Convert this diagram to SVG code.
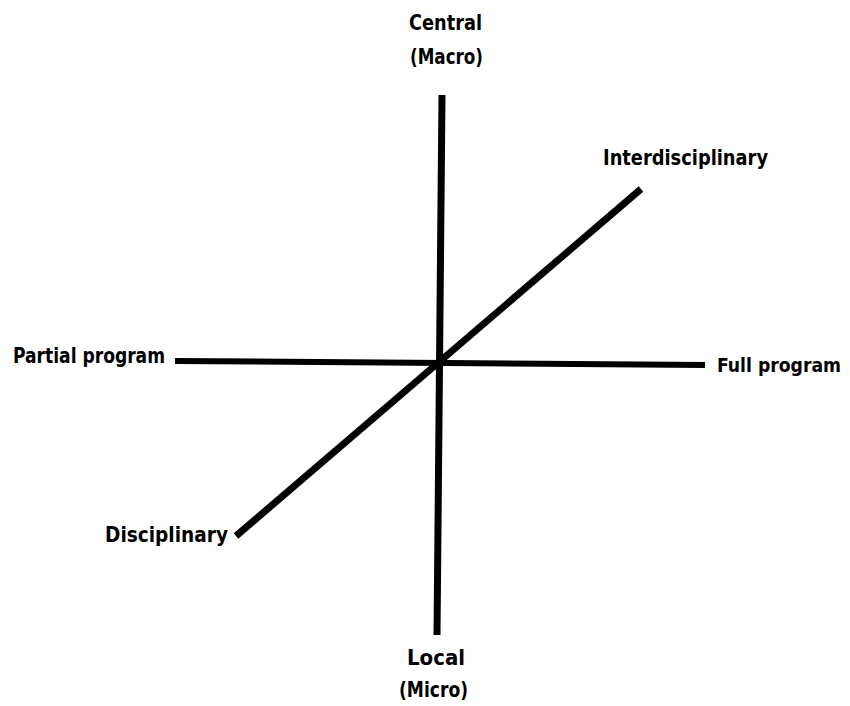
<svg xmlns="http://www.w3.org/2000/svg" width="850" height="706" viewBox="0 0 850 706">
<style>
.lbl{font-family:"DejaVu Sans Condensed","DejaVu Sans","Liberation Sans",sans-serif;font-weight:bold;font-size:22px;fill:#000}
.ax{stroke:#000;fill:none;stroke-linecap:butt}
</style>
<rect width="850" height="706" fill="#fff"/>
<g id="connectors">
<line class="ax" stroke-width="7" x1="442" y1="95" x2="437" y2="635"/>
<line class="ax" stroke-width="6" x1="175" y1="361" x2="705" y2="365"/>
<line class="ax" stroke-width="7" x1="641" y1="189" x2="236" y2="536"/>
</g>
<g id="central"><text class="lbl" x="409" y="30" textLength="73" lengthAdjust="spacingAndGlyphs">Central</text><text class="lbl" x="410" y="64" textLength="73" lengthAdjust="spacingAndGlyphs">(Macro)</text></g>
<g id="interdisciplinary"><text class="lbl" x="603" y="165" textLength="165" lengthAdjust="spacingAndGlyphs">Interdisciplinary</text></g>
<g id="partial"><text class="lbl" x="13" y="363" textLength="152" lengthAdjust="spacingAndGlyphs">Partial program</text></g>
<g id="full"><text class="lbl" x="717" y="372" style="font-size:20px" textLength="124" lengthAdjust="spacingAndGlyphs">Full program</text></g>
<g id="disciplinary"><text class="lbl" x="105" y="542" textLength="123" lengthAdjust="spacingAndGlyphs">Disciplinary</text></g>
<g id="local"><text class="lbl" x="407" y="665" textLength="58" lengthAdjust="spacingAndGlyphs">Local</text><text class="lbl" x="399" y="697" textLength="69" lengthAdjust="spacingAndGlyphs">(Micro)</text></g>
</svg>
